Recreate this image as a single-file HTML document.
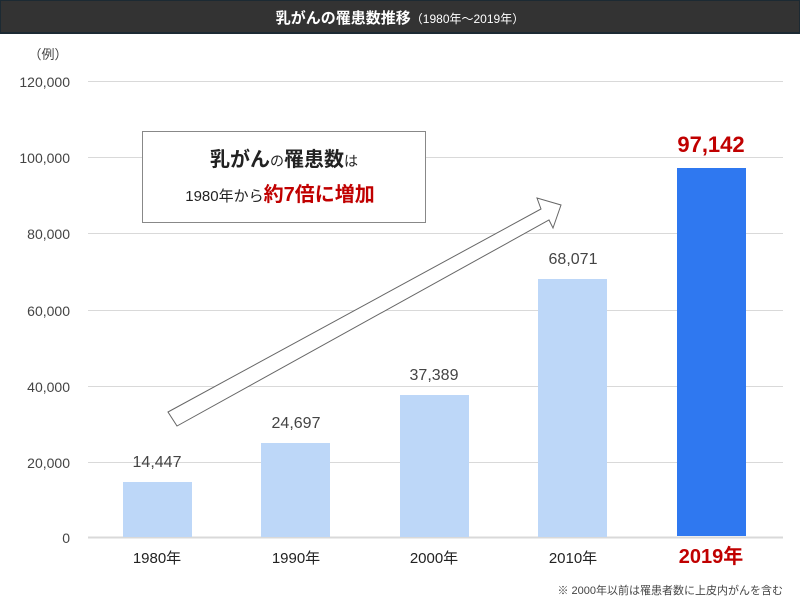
<!DOCTYPE html>
<html><head><meta charset="utf-8"><style>
body{margin:0;width:800px;height:611px;background:#fff;overflow:hidden;font-family:"Liberation Sans","Noto Sans CJK JP",sans-serif}
</style></head><body>
<svg width="800" height="611" xmlns="http://www.w3.org/2000/svg" font-family="'Liberation Sans','Noto Sans CJK JP',sans-serif">
<rect x="0" y="0" width="800" height="33" fill="#333" stroke="#1c2a33" stroke-width="2"/>
<text x="400" y="23" text-anchor="middle" fill="#fff" font-size="15" font-weight="bold">乳がんの罹患数推移<tspan font-size="12" font-weight="normal">（1980年～2019年）</tspan></text>
<text x="48" y="59" text-anchor="middle" font-size="13" fill="#444">（例）</text>
<g stroke="#d9d9d9" stroke-width="1">
<line x1="88" x2="783" y1="81.5" y2="81.5"/><line x1="88" x2="783" y1="157.5" y2="157.5"/><line x1="88" x2="783" y1="233.5" y2="233.5"/><line x1="88" x2="783" y1="310.5" y2="310.5"/><line x1="88" x2="783" y1="386.5" y2="386.5"/><line x1="88" x2="783" y1="462.5" y2="462.5"/>
</g>
<line x1="88" x2="783" y1="537.5" y2="537.5" stroke="#d9d9d9" stroke-width="2"/>
<g font-size="14" fill="#444" text-anchor="end">
<text x="70" y="87">120,000</text><text x="70" y="163">100,000</text><text x="70" y="239">80,000</text><text x="70" y="316">60,000</text><text x="70" y="392">40,000</text><text x="70" y="468">20,000</text><text x="70" y="543">0</text>
</g>
<g fill="#bdd7f8">
<rect x="123" y="482" width="69" height="55"/>
<rect x="261" y="443" width="69" height="94"/>
<rect x="400" y="395" width="69" height="142"/>
<rect x="538" y="279" width="69" height="258"/>
</g>
<rect x="677" y="168" width="69" height="368" fill="#2f78f0"/>
<g font-size="16" fill="#444" text-anchor="middle">
<text x="157" y="467">14,447</text><text x="296" y="428">24,697</text><text x="434" y="380">37,389</text><text x="573" y="264">68,071</text>
</g>
<text x="711" y="152" text-anchor="middle" font-size="22" font-weight="bold" fill="#c00000">97,142</text>
<g font-size="15" fill="#222" text-anchor="middle">
<text x="157" y="563">1980年</text><text x="296" y="563">1990年</text><text x="434" y="563">2000年</text><text x="573" y="563">2010年</text>
</g>
<text x="711" y="563" text-anchor="middle" font-size="20" font-weight="bold" fill="#c00000">2019年</text>
<text x="783" y="594" text-anchor="end" font-size="11" fill="#444">※ 2000年以前は罹患者数に上皮内がんを含む</text>
<polygon points="168,412 541,209 537,198 561,205 553,228 549,220 177,426" fill="#fff" stroke="#666" stroke-width="1"/>
<rect x="142.5" y="131.5" width="283" height="91" fill="#fff" stroke="#888"/>
<text x="284" y="166" text-anchor="middle" fill="#222" font-size="20" font-weight="bold">乳がん<tspan font-size="14" font-weight="normal">の</tspan>罹患数<tspan font-size="14" font-weight="normal">は</tspan></text>
<text x="280" y="201" text-anchor="middle" fill="#222" font-size="15">1980年から<tspan fill="#c00000" font-size="20" font-weight="bold">約7倍に増加</tspan></text>
</svg>
</body></html>
